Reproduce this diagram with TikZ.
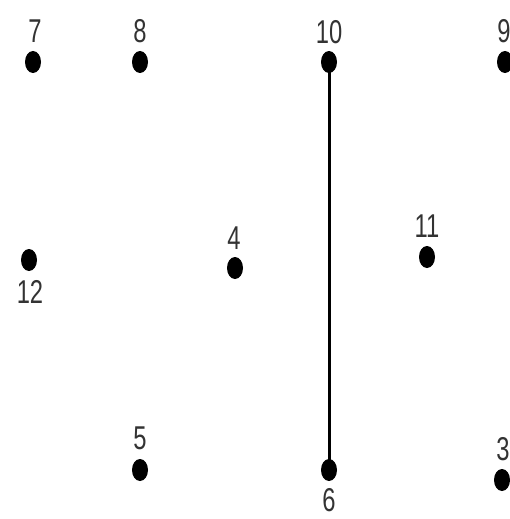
\documentclass[tikz,border=0pt]{standalone}
\usepackage{fontspec}
\setmainfont{Liberation Sans}
\usetikzlibrary{shapes.geometric}
\begin{document}
\begin{tikzpicture}[x=1pt,y=-1pt,
  dot/.style={ellipse,fill=black,inner sep=0pt,minimum width=16pt,minimum height=22pt},
  lbl/.style={inner sep=0pt,font=\fontsize{33}{33}\selectfont,text=black!80},
  edge/.style={line width=3pt,black}]
\useasboundingbox (0,0) rectangle (509,519);
\newcommand{\nm}[1]{\scalebox{0.72}[1]{#1}}
% dots
\node[dot] (n7)  at (33,62) {};
\node[dot] (n8)  at (140,62) {};
\node[dot] (n10) at (329,62) {};
\node[dot] (n9)  at (505,62) {};
\node[dot] (n12) at (29,260) {};
\node[dot] (n4)  at (235,268) {};
\node[dot] (n11) at (427,257) {};
\node[dot] (n5)  at (140,470) {};
\node[dot] (n6)  at (329,470) {};
\node[dot] (n3)  at (502,480) {};
% labels
\node[lbl] (l7)  at (35,31) {\nm{7}};
\node[lbl] (l8)  at (140,31) {\nm{8}};
\node[lbl] (l10) at (329,32) {\nm{10}};
\node[lbl] (l9)  at (504,31) {\nm{9}};
\node[lbl] (l12) at (30,292) {\nm{12}};
\node[lbl] (l4)  at (234,238) {\nm{4}};
\node[lbl] (l11) at (427,226) {\nm{11}};
\node[lbl] (l5)  at (140,438) {\nm{5}};
\node[lbl] (l6)  at (329,500) {\nm{6}};
\node[lbl] (l3)  at (503,449) {\nm{3}};
% edge
\draw[edge] (n10.center) -- (n6.center);
\end{tikzpicture}
\end{document}
